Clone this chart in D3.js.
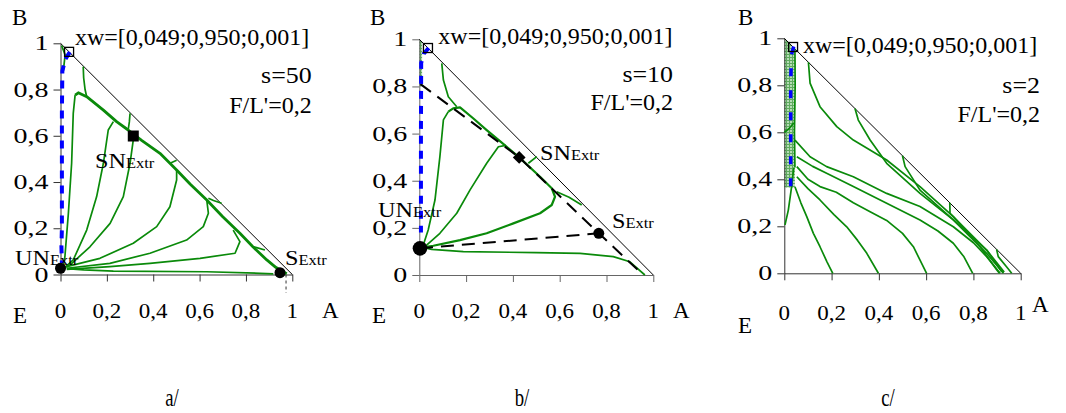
<!DOCTYPE html>
<html><head><meta charset="utf-8">
<script src="https://cdn.jsdelivr.net/npm/d3@7/dist/d3.min.js"></script>
<style>
html,body{margin:0;padding:0;background:#fff;}
text{font-family:'Liberation Serif','Times New Roman',serif;fill:#000;}
</style></head>
<body><svg id="chart" width="1066" height="413"></svg>
<script>
// ---------- data ----------
const ticks = [0, 0.2, 0.4, 0.6, 0.8, 1];
const tickLabels = ["0", "0,2", "0,4", "0,6", "0,8", "1"];
const panelCaptions = ["a/", "b/", "c/"];
const sLabels = ["s=50", "s=10", "s=2"];
const feedLabel = "xw=[0,049;0,950;0,001]";
const ratioLabel = "F/L'=0,2";
const feedPoint = [0.037, 0.963];

// panel a (s=50)
const aEnvelope = [[0.063,0.776],[0.077,0.786],[0.113,0.769],[0.185,0.711],[0.242,0.661],[0.292,0.625],[0.35,0.58],[0.429,0.524],[0.501,0.452],[0.56,0.39],[0.631,0.322],[0.70,0.25],[0.774,0.178],[0.83,0.12],[0.89,0.063],[0.93,0.03],[0.976,0.003]];
const aCurves = [
  [[0.098,0.899],[0.10,0.85],[0.106,0.80],[0.113,0.769]],
  [[0.30,0.697],[0.297,0.66],[0.292,0.625]],
  [[0.501,0.494],[0.475,0.482]],
  [[0.695,0.308],[0.66,0.32],[0.638,0.33]],
  [[0.882,0.106],[0.85,0.115],[0.832,0.12]],
  [[0.063,0.776],[0.055,0.697],[0.048,0.481],[0.034,0.265],[0.019,0.077],[0.012,0.031]],
  [[0.228,0.661],[0.206,0.625],[0.195,0.55],[0.185,0.481],[0.156,0.337],[0.113,0.192],[0.055,0.063],[0.019,0.031]],
  [[0.314,0.582],[0.30,0.481],[0.271,0.337],[0.214,0.221],[0.127,0.120],[0.041,0.041],[0.02,0.03]],
  [[0.501,0.452],[0.501,0.409],[0.472,0.293],[0.415,0.207],[0.314,0.135],[0.170,0.070],[0.027,0.034]],
  [[0.631,0.322],[0.638,0.265],[0.616,0.207],[0.544,0.149],[0.386,0.092],[0.213,0.048],[0.027,0.027]],
  [[0.745,0.192],[0.774,0.142],[0.753,0.092],[0.602,0.070],[0.386,0.048],[0.213,0.034],[0.027,0.022]],
  [[0.918,0.003],[0.861,0.005],[0.631,0.012],[0.228,0.015],[0.1,0.02],[0.027,0.025]],
  [[0.005,0.99],[0.02,0.95],[0.012,0.88]]
];
const aBlue = [[0.04,0.962],[0.02,0.93],[0.008,0.88],[0.006,0.7],[0.006,0.4],[0.006,0.2],[0.004,0.12],[0.006,0.05]];
const aUN = [0.0, 0.027], aS = [0.947, 0.008], aSN = [0.314, 0.599];

// panel b (s=10)
const bEnvelope = [[0.124,0.693],[0.145,0.707],[0.174,0.711],[0.23,0.665],[0.288,0.615],[0.36,0.555],[0.427,0.499],[0.516,0.417],[0.566,0.368],[0.58,0.332],[0.566,0.297],[0.516,0.262],[0.402,0.219],[0.288,0.177],[0.174,0.148],[0.06,0.124],[0.024,0.118]];
const bCurves = [
  [[0.096,0.898],[0.103,0.827],[0.124,0.756],[0.160,0.714]],
  [[0.502,0.502],[0.466,0.474]],
  [[0.694,0.297],[0.64,0.33],[0.587,0.353]],
  [[0.124,0.693],[0.103,0.658],[0.088,0.502],[0.067,0.318],[0.038,0.191],[0.017,0.127]],
  [[0.37,0.55],[0.338,0.544],[0.288,0.474],[0.217,0.361],[0.16,0.262],[0.088,0.177],[0.024,0.12]],
  [[0.024,0.115],[0.053,0.109],[0.188,0.099],[0.5,0.095],[0.687,0.092],[0.829,0.078],[0.9,0.056],[0.964,0]]
];
const bBlue = [[0.04,0.963],[0.02,0.94],[0.008,0.9],[0.007,0.6],[0.007,0.18]];
const bTieLines = [
  [[0.005,0.81],[0.427,0.499],[0.767,0.177],[0.957,0]],
  [[0.003,0.113],[0.767,0.177]]
];
const bHatch = [[0,1],[0.012,0.988],[0.012,0.8],[0,0.8]];
const bUN = [0.003, 0.113], bS = [0.767, 0.177], bSN = [0.427, 0.499];

// panel c (s=2)
const cCurves = [
  [[0.045,0.368],[0.07,0.30],[0.095,0.241],[0.123,0.17],[0.151,0.113],[0.18,0.05],[0.205,0]],
  [[0.053,0.411],[0.1,0.36],[0.151,0.312],[0.21,0.25],[0.264,0.198],[0.31,0.14],[0.349,0.085],[0.398,0]],
  [[0.053,0.454],[0.1,0.40],[0.151,0.369],[0.22,0.345],[0.292,0.30],[0.363,0.262],[0.433,0.225],[0.50,0.17],[0.546,0.113],[0.602,0]],
  [[0.053,0.496],[0.12,0.455],[0.179,0.426],[0.292,0.369],[0.433,0.298],[0.574,0.227],[0.65,0.18],[0.715,0.128],[0.76,0.07],[0.797,0]],
  [[0.045,0.567],[0.109,0.496],[0.179,0.454],[0.292,0.411],[0.433,0.34],[0.574,0.284],[0.715,0.198],[0.80,0.13],[0.856,0.071],[0.913,0]],
  [[0.102,0.898],[0.109,0.809],[0.151,0.709],[0.222,0.624],[0.292,0.567],[0.433,0.482],[0.574,0.369],[0.715,0.241],[0.828,0.113],[0.899,0.014],[0.91,0]],
  [[0.299,0.701],[0.313,0.652],[0.363,0.567],[0.433,0.468],[0.574,0.34],[0.715,0.227],[0.856,0.085],[0.927,0]],
  [[0.5,0.5],[0.511,0.454],[0.574,0.354],[0.715,0.227],[0.856,0.099],[0.93,0.005]],
  [[0.7,0.3],[0.701,0.255],[0.785,0.17],[0.856,0.099],[0.92,0.007]],
  [[0.898,0.102],[0.905,0.071],[0.94,0.028],[0.962,0]],
  [[0.003,0.206],[0.017,0.269],[0.031,0.369],[0.04,0.45]],
  [[0.045,0.955],[0.046,0.8],[0.043,0.6],[0.045,0.45]],
  [[0,0.6],[0.02,0.615],[0.04,0.64]]
];
const cBlue = [[0.04,0.965],[0.03,0.93],[0.027,0.8],[0.027,0.6],[0.027,0.36]];
const cHatch = [[0,1],[0.045,0.955],[0.045,0.365],[0,0.365]];

// ---------- drawing ----------
const svg = d3.select("#chart");
const defs = svg.append("defs");
const pat = defs.append("pattern").attr("id","hatch").attr("patternUnits","userSpaceOnUse").attr("width",3).attr("height",3);
pat.append("rect").attr("width",3).attr("height",3).attr("fill","#b4dcb4");
pat.append("path").attr("d","M0,0.5H3M0.5,0V3").attr("stroke","#5faa5f").attr("stroke-width",1);

function txt(g, x, y, str, size, anchor, sx) {
  return g.append("text")
    .attr("transform", `translate(${x},${y}) scale(${sx||1},1)`)
    .attr("text-anchor", anchor || "start")
    .style("font-size", size + "px")
    .text(str);
}
function subLabel(g, x, y, main, sub) {
  const t = g.append("text").attr("transform", `translate(${x},${y}) scale(1.1,1)`);
  t.append("tspan").style("font-size","22px").text(main);
  t.append("tspan").style("font-size","15px").text(sub);
}

const panels = [
  {x0:60.5, x1:292.3, y0:274.5, y1:43.3, axisColor:"#333",
   B:[12,25], E:[13,323], A:[322,318], xw:[75,45], s:[311.7,83], fl:[311.7,113], cap:[172,406], xlY:318,
   envelope:aEnvelope, curves:aCurves, blue:aBlue, blueW:4, blueDash:"8,7", hatch:null, ties:[],
   sLabel:sLabels[0], caption:panelCaptions[0]},
  {x0:419.3, x1:653.3, y0:275, y1:39.3, axisColor:"#666",
   B:[370,25], E:[372,323], A:[673,318], xw:[438.3,43.5], s:[673,82], fl:[673,110], cap:[522,406], xlY:318,
   envelope:bEnvelope, curves:bCurves, blue:bBlue, blueW:4, blueDash:"8,7", hatch:bHatch, ties:bTieLines,
   sLabel:sLabels[1], caption:panelCaptions[1]},
  {x0:784.3, x1:1020.7, y0:273.3, y1:38.3, axisColor:"#333",
   B:[738,25], E:[738,333], A:[1032,312], xw:[803,53], s:[1040,93], fl:[1040,122], cap:[888,406], xlY:320,
   envelope:null, curves:cCurves, blue:cBlue, blueW:3.5, blueDash:"8,14", hatch:cHatch, ties:[],
   sLabel:sLabels[2], caption:panelCaptions[2]}
];

panels.forEach((p, i) => {
  const x = d3.scaleLinear().domain([0,1]).range([p.x0, p.x1]);
  const y = d3.scaleLinear().domain([0,1]).range([p.y0, p.y1]);
  const line = d3.line().x(d => x(d[0])).y(d => y(d[1]));
  const g = svg.append("g");

  if (p.hatch) g.append("path").attr("d", line(p.hatch) + "Z").attr("fill","url(#hatch)").attr("stroke","none");

  // axes
  const yAxis = d3.axisLeft(y).tickValues(ticks).tickFormat("").tickSize(7).tickSizeOuter(0);
  const xAxis = d3.axisBottom(x).tickValues(ticks).tickFormat("").tickSize(7).tickSizeOuter(0);
  const ga = g.append("g").attr("transform",`translate(${p.x0},0)`).call(yAxis);
  const gb = g.append("g").attr("transform",`translate(0,${p.y0})`).call(xAxis);
  [ga, gb].forEach(a => { a.selectAll("path,line").attr("stroke", p.axisColor).attr("stroke-width",1); });

  ticks.forEach((t, k) => {
    txt(g, p.x0 - 12, y(t) + 7, tickLabels[k], 20, "end", 1.4);
    txt(g, x(t), p.xlY, tickLabels[k], 20, "middle", 1.15);
  });

  // hypotenuse
  g.append("path").attr("d", line([[0,1],[1,0]])).attr("stroke","#000").attr("stroke-width",1).attr("fill","none");

  // green curves
  p.curves.forEach(c => g.append("path").attr("d", line(c)).attr("fill","none")
    .attr("stroke","#0a8a0a").attr("stroke-width",1.7).attr("stroke-linejoin","round"));
  if (p.envelope) g.append("path").attr("d", line(p.envelope)).attr("fill","none")
    .attr("stroke","#0a8a0a").attr("stroke-width", i===0 ? 2.8 : 2.2).attr("stroke-linejoin","round");

  // black dashed tie lines
  p.ties.forEach(c => g.append("path").attr("d", line(c)).attr("fill","none")
    .attr("stroke","#000").attr("stroke-width",2).attr("stroke-dasharray","13,8"));

  // blue dashed
  g.append("path").attr("d", line(p.blue)).attr("fill","none")
    .attr("stroke","#0000ff").attr("stroke-width",p.blueW).attr("stroke-dasharray",p.blueDash);

  // feed marker
  g.append("rect").attr("x", x(feedPoint[0]) - 4.5).attr("y", y(feedPoint[1]) - 4.5)
    .attr("width",9).attr("height",9).attr("fill","none").attr("stroke","#000").attr("stroke-width",1.3);

  // labels
  txt(g, p.B[0], p.B[1], "B", 23, "start", 1);
  txt(g, p.E[0], p.E[1], "E", 23, "start", 1);
  txt(g, p.A[0], p.A[1], "A", 23, "start", 1);
  txt(g, p.xw[0], p.xw[1], feedLabel, 24, "start", 1);
  txt(g, p.s[0], p.s[1], p.sLabel, 24, "end", 1.08);
  txt(g, p.fl[0], p.fl[1], ratioLabel, 24, "end", 1.0);
  txt(g, p.cap[0], p.cap[1], p.caption, 25, "middle", 0.75);

  if (i === 0) {
    g.append("path").attr("d", line([[0.973,0],[0.973,-0.08]])).attr("stroke","#333").attr("stroke-dasharray","3,3").attr("fill","none");
    g.append("rect").attr("x", x(aSN[0]) - 5.5).attr("y", y(aSN[1]) - 5.5).attr("width",11).attr("height",11).attr("fill","#000");
    g.append("circle").attr("cx", x(aUN[0])).attr("cy", y(aUN[1])).attr("r",5.5).attr("fill","#000");
    g.append("circle").attr("cx", x(aS[0])).attr("cy", y(aS[1])).attr("r",5.5).attr("fill","#000");
    subLabel(g, 95, 168, "SN", "Extr");
    subLabel(g, 15, 265, "UN", "Extr");
    subLabel(g, 285, 265, "S", "Extr");
  }
  if (i === 1) {
    g.append("rect").attr("x", x(bSN[0]) - 4.5).attr("y", y(bSN[1]) - 4.5).attr("width",9).attr("height",9)
      .attr("fill","#000").attr("transform", `rotate(45,${x(bSN[0])},${y(bSN[1])})`);
    g.append("circle").attr("cx", x(bUN[0])).attr("cy", y(bUN[1])).attr("r",7.3).attr("fill","#000");
    g.append("circle").attr("cx", x(bS[0])).attr("cy", y(bS[1])).attr("r",5.5).attr("fill","#000");
    subLabel(g, 540, 160, "SN", "Extr");
    subLabel(g, 378, 217, "UN", "Extr");
    subLabel(g, 612, 228, "S", "Extr");
  }
});
</script></body></html>
